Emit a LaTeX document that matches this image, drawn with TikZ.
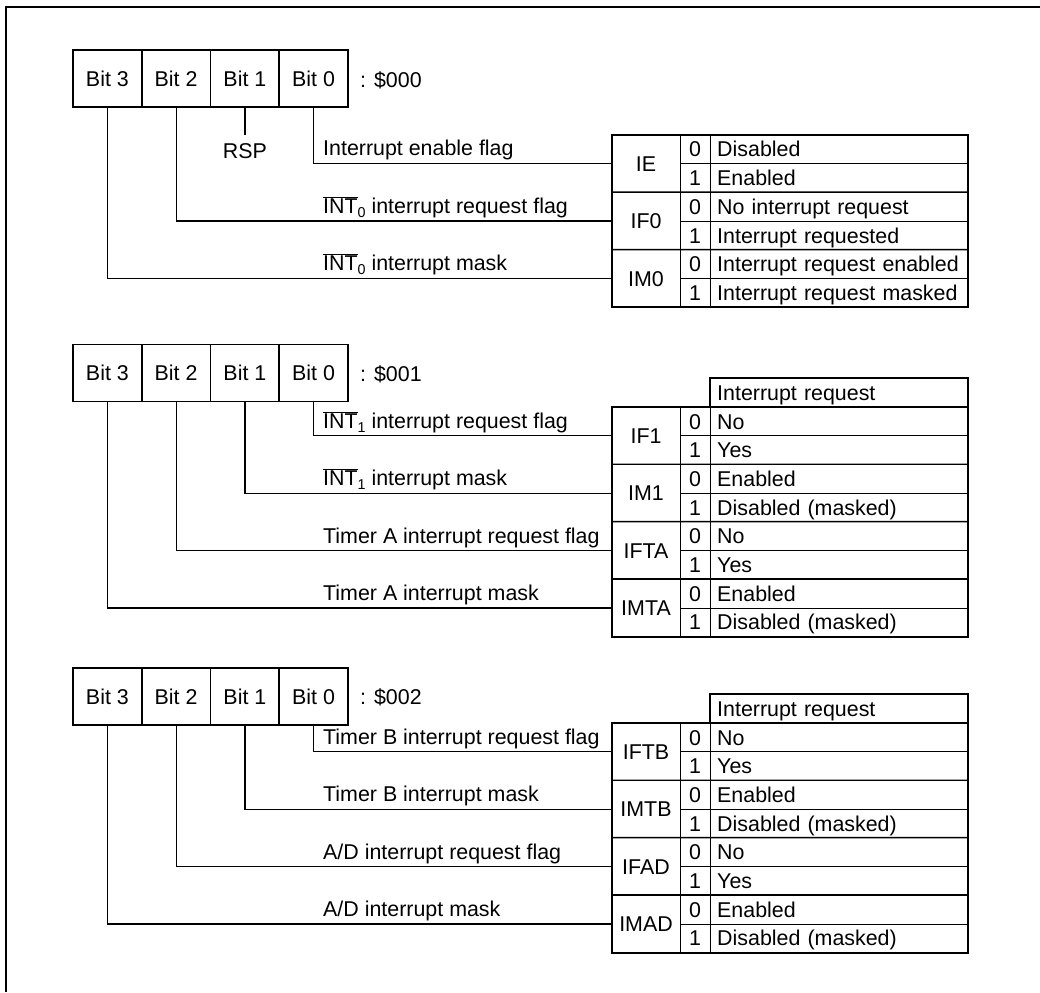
\documentclass[tikz,border=0pt]{standalone}
\usepackage{fontspec}
\setmainfont{Liberation Sans}
\newcommand\ovint[1]{$\overline{\hbox{INT}}$\lower4pt\hbox{\fontsize{14.3}{14.3}\selectfont #1}}
\tikzset{
  txt/.style={font=\fontsize{21.4}{26}\selectfont, text height=15.3pt, text depth=0pt},
  bitbox/.style={txt, draw, line width=1.9pt, minimum width=68.75pt, minimum height=57pt, inner sep=0pt},
  namecell/.style={txt, minimum width=68pt, minimum height=57.4pt, inner sep=0pt},
  digcell/.style={txt, minimum width=30pt, minimum height=28.7pt, inner sep=0pt},
  valcell/.style={txt, anchor=west, text width=244pt, inner xsep=7pt, inner ysep=0pt, minimum height=28.7pt, align=left},
  lbl/.style={font=\fontsize{21.4}{26}\selectfont, anchor=base west, inner sep=0pt},
  conn/.style={line width=1.2pt},
  outer/.style={line width=1.9pt},
  sep/.style={line width=1.4pt},
  inner/.style={line width=1pt},
}
\newcommand\bits[2]{% #1 prefix, #2 center y
  \node[bitbox] (#1b3) at (107.4,#2) {Bit 3};
  \node[bitbox] (#1b2) at (176.1,#2) {Bit 2};
  \node[bitbox] (#1b1) at (244.9,#2) {Bit 1};
  \node[bitbox] (#1b0) at (313.6,#2) {Bit 0};
}
\newcommand\grp[4]{% #1 name, #2 ytop, #3 val0, #4 val1
  \pgfmathsetmacro\ga{#2+14.35}
  \pgfmathsetmacro\gb{#2+43.05}
  \pgfmathsetmacro\gm{#2+28.7}
  \node[namecell] (n#1) at (646,\gm) {#1};
  \node[digcell] (n#1d0) at (695,\ga) {0};
  \node[digcell] (n#1d1) at (695,\gb) {1};
  \node[valcell] (n#1v0) at (710,\ga) {\mbox{#3}};
  \node[valcell] (n#1v1) at (710,\gb) {\mbox{#4}};
  \draw[inner] (n#1d0.south west) -- (n#1v0.south east);
  \draw[sep] (n#1.north west) -- (n#1v0.north east);
}
\newcommand\tabframe[2]{% #1 first group, #2 last group
  \draw[outer] (n#1.north west) rectangle (n#2v1.south east);
  \draw[sep] (n#1.north east) -- (n#2.south east);
  \draw[inner] (n#1d0.north east) -- (n#2d1.south east);
}
\begin{document}
\begin{tikzpicture}[x=1pt,y=-1pt]
\useasboundingbox (0,0) rectangle (1040,992);
% frame
\draw[line width=2.6pt] (6,992) -- (6,7) -- (1040,7);

% ---------- section 1: $000 ----------
\bits{a}{78.5}
\node[txt, anchor=west, inner sep=0pt] (aaddr) at (360,79.5) {: \$000};
\grp{IE}{135}{Disabled}{Enabled}
\grp{IF0}{192.4}{No interrupt request}{Interrupt requested}
\grp{IM0}{249.8}{Interrupt request enabled}{Interrupt request masked}
\tabframe{IE}{IM0}
\node[font=\fontsize{21.4}{26}\selectfont, anchor=north, inner xsep=0pt, inner ysep=8pt] (rsp) at (244.9,135) {RSP};
\draw[conn] (ab1.south) -- (rsp.north);
\draw[conn] (ab0.south) |- (nIE.west);
\draw[conn] (ab2.south) |- (nIF0.west);
\draw[conn] (ab3.south) |- (nIM0.west);
\node[lbl] (la0) at (323,156) {Interrupt enable flag};
\node[lbl] (la2) at (323,213.5) {\ovint{0} interrupt request flag};
\node[lbl] (la3) at (323,270.5) {\ovint{0} interrupt mask};

% ---------- section 2: $001 ----------
\bits{b}{373}
\node[txt, anchor=west, inner sep=0pt] (baddr) at (360,373.5) {: \$001};
\node[valcell] (bhdr) at (710,392.65) {\mbox{Interrupt request}};
\draw[outer] (bhdr.north west) rectangle (bhdr.south east);
\grp{IF1}{407}{No}{Yes}
\grp{IM1}{464.4}{Enabled}{Disabled (masked)}
\grp{IFTA}{521.8}{No}{Yes}
\grp{IMTA}{579.2}{Enabled}{Disabled (masked)}
\tabframe{IF1}{IMTA}
\draw[conn] (bb0.south) |- (nIF1.west);
\draw[conn] (bb1.south) |- (nIM1.west);
\draw[conn] (bb2.south) |- (nIFTA.west);
\draw[conn] (bb3.south) |- (nIMTA.west);
\node[lbl] (lb0) at (323,428.5) {\ovint{1} interrupt request flag};
\node[lbl] (lb1) at (323,485.5) {\ovint{1} interrupt mask};
\node[lbl] (lb2) at (323,543) {Timer A interrupt request flag};
\node[lbl] (lb3) at (323,600.5) {Timer A interrupt mask};

% ---------- section 3: $002 ----------
\bits{c}{696.5}
\node[txt, anchor=west, inner sep=0pt] (caddr) at (360,697) {: \$002};
\node[valcell] (chdr) at (710,708.65) {\mbox{Interrupt request}};
\draw[outer] (chdr.north west) rectangle (chdr.south east);
\grp{IFTB}{723}{No}{Yes}
\grp{IMTB}{780.4}{Enabled}{Disabled (masked)}
\grp{IFAD}{837.8}{No}{Yes}
\grp{IMAD}{895.2}{Enabled}{Disabled (masked)}
\tabframe{IFTB}{IMAD}
\draw[conn] (cb0.south) |- (nIFTB.west);
\draw[conn] (cb1.south) |- (nIMTB.west);
\draw[conn] (cb2.south) |- (nIFAD.west);
\draw[conn] (cb3.south) |- (nIMAD.west);
\node[lbl] (lc0) at (323,744.5) {Timer B interrupt request flag};
\node[lbl] (lc1) at (323,801.5) {Timer B interrupt mask};
\node[lbl] (lc2) at (323,859) {A/D interrupt request flag};
\node[lbl] (lc3) at (323,916.5) {A/D interrupt mask};
\end{tikzpicture}
\end{document}
